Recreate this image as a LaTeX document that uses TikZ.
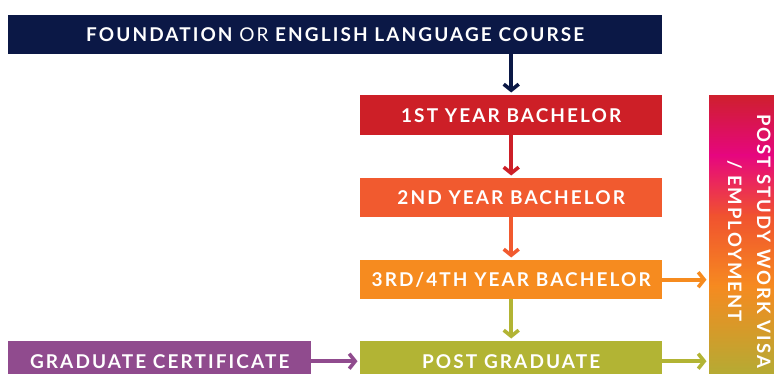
\documentclass[tikz,border=0pt]{standalone}
\usepackage{fontspec}
\setmainfont{Lato}[LetterSpace=11]
\usetikzlibrary{arrows.meta}
\definecolor{navy}{HTML}{0B1846}
\definecolor{cred}{HTML}{CD1F27}
\definecolor{cred2}{HTML}{F15A2F}
\definecolor{corange}{HTML}{F68B1F}
\definecolor{colive}{HTML}{B2B434}
\definecolor{cpurple}{HTML}{904B8E}
\definecolor{gA}{HTML}{CF1F2F}
\definecolor{gB}{HTML}{E6067F}
\definecolor{gC}{HTML}{F0522F}
\definecolor{gD}{HTML}{F68A20}
\definecolor{gE}{HTML}{B0AD35}
\begin{document}
\begin{tikzpicture}[x=1pt,y=-1pt,
  box/.style={anchor=north west, inner sep=0pt, text=white,
    font=\fontsize{19}{21}\selectfont\bfseries},
  arr/.style={line width=3.6pt, -{Straight Barb[length=6pt,width=15pt]}, shorten >=2.5pt}]
\useasboundingbox (0,0) rectangle (774,374);
\clip (0,0) rectangle (774,374);
% gradient column
\shade[top color=gA, bottom color=gB] (709,96) rectangle (790,156);
\shade[top color=gB, bottom color=gC] (709,155) rectangle (790,216);
\shade[top color=gC, bottom color=gD] (709,215) rectangle (790,286);
\shade[top color=gD, bottom color=gE] (709,285) rectangle (790,381);
\node[anchor=north west, inner sep=0pt, minimum width=80pt, minimum height=285pt] (visa) at (709,96) {};
\node[rotate=-90, align=center, text=white, inner sep=0pt,
  font=\fontsize{18.5}{29}\selectfont\bfseries] (visatext) at (749,241)
  {POST STUDY WORK VISA\\/ EMPLOYMENT};
% boxes
\node[box, fill=navy, minimum width=654pt, minimum height=39pt] (found) at (8,15)
  {FOUNDATION {\mdseries OR} ENGLISH LANGUAGE COURSE};
\node[box, fill=cred, minimum width=302pt, minimum height=40pt] (y1) at (360,95) {1ST YEAR BACHELOR};
\node[box, fill=cred2, minimum width=302pt, minimum height=39pt] (y2) at (360,178) {2ND YEAR BACHELOR};
\node[box, fill=corange, minimum width=302pt, minimum height=39pt] (y3) at (360,260) {3RD/4TH YEAR BACHELOR};
\node[box, fill=colive, minimum width=302pt, minimum height=40pt] (pg) at (360,341) {POST GRADUATE};
\node[box, fill=cpurple, minimum width=303pt, minimum height=40pt] (gc) at (8,341) {GRADUATE CERTIFICATE};
% arrows
\draw[arr, navy] (found.south -| y1.north) -- (y1.north);
\draw[arr, cred] (y1.south) -- (y2.north);
\draw[arr, cred2] (y2.south) -- (y3.north);
\draw[arr, colive] (y3.south) -- (pg.north);
\draw[arr, corange] (y3.east) -- (y3.east -| visa.west);
\draw[arr, colive] (pg.east) -- (pg.east -| visa.west);
\draw[arr, cpurple] (gc.east) -- (pg.west);
\end{tikzpicture}
\end{document}
